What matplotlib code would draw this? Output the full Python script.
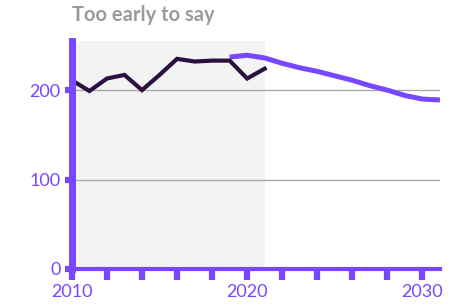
import matplotlib
matplotlib.use("Agg")
import matplotlib.pyplot as plt

hist_years = [2010, 2011, 2012, 2013, 2014, 2015, 2016, 2017, 2018, 2019, 2020, 2021]
hist_values = [211, 199, 213, 217, 200, 217, 235, 232, 233, 233, 213, 224]

proj_years = [2019, 2020, 2021, 2022, 2023, 2024, 2025, 2026, 2027, 2028, 2029, 2030, 2031]
proj_values = [237, 239, 236, 230, 225, 221, 216, 211, 205, 200, 194, 190, 189]

x_ticks = [2010, 2012, 2014, 2016, 2018, 2020, 2022, 2024, 2026, 2028, 2030]
x_labels = ["2010", "", "", "", "", "2020", "", "", "", "", "2030"]
y_ticks = [0, 100, 200]
title = "Too early to say"

PURPLE = "#7847ff"
DARK = "#2b1040"

plt.rcParams['font.family'] = ['Lato', 'DejaVu Sans']

fig = plt.figure(figsize=(4.7, 3.08), dpi=100)
ax = fig.add_axes([0.153, 0.127, 0.783, 0.74])

ax.axvspan(2010, 2021, color="#f3f3f3", zorder=0, lw=0)
for v in [100, 200]:
    ax.axhline(v, color="#aaaaaa", lw=1, zorder=1)

ax.plot(proj_years, proj_values, color=PURPLE, lw=3.6, zorder=3, solid_capstyle="butt")
ax.plot(hist_years, hist_values, color=DARK, lw=3, zorder=4, solid_joinstyle="miter")

ax.set_xlim(2010, 2031)
ax.set_ylim(0, 255)
ax.set_xticks(x_ticks)
ax.set_xticklabels(x_labels)
ax.set_yticks(y_ticks)

for s in ["top", "right"]:
    ax.spines[s].set_visible(False)
ax.spines["left"].set_color(PURPLE)
ax.spines["left"].set_linewidth(5)
ax.spines["bottom"].set_color(PURPLE)
ax.spines["bottom"].set_linewidth(3)
ax.spines["left"].set_zorder(5)
ax.spines["bottom"].set_zorder(5)

ax.tick_params(axis="x", colors=PURPLE, length=8, width=4.5, labelsize=13, pad=3)
ax.tick_params(axis="y", colors=PURPLE, length=5, width=4.5, labelsize=13, pad=3)
for lab in ax.get_xticklabels() + ax.get_yticklabels():
    lab.set_color(PURPLE)

fig.text(0.153, 0.95, title, color="#9a9a9a", fontsize=14.5, fontweight="bold",
         ha="left", va="center")

fig.savefig("out.png", dpi=100)
